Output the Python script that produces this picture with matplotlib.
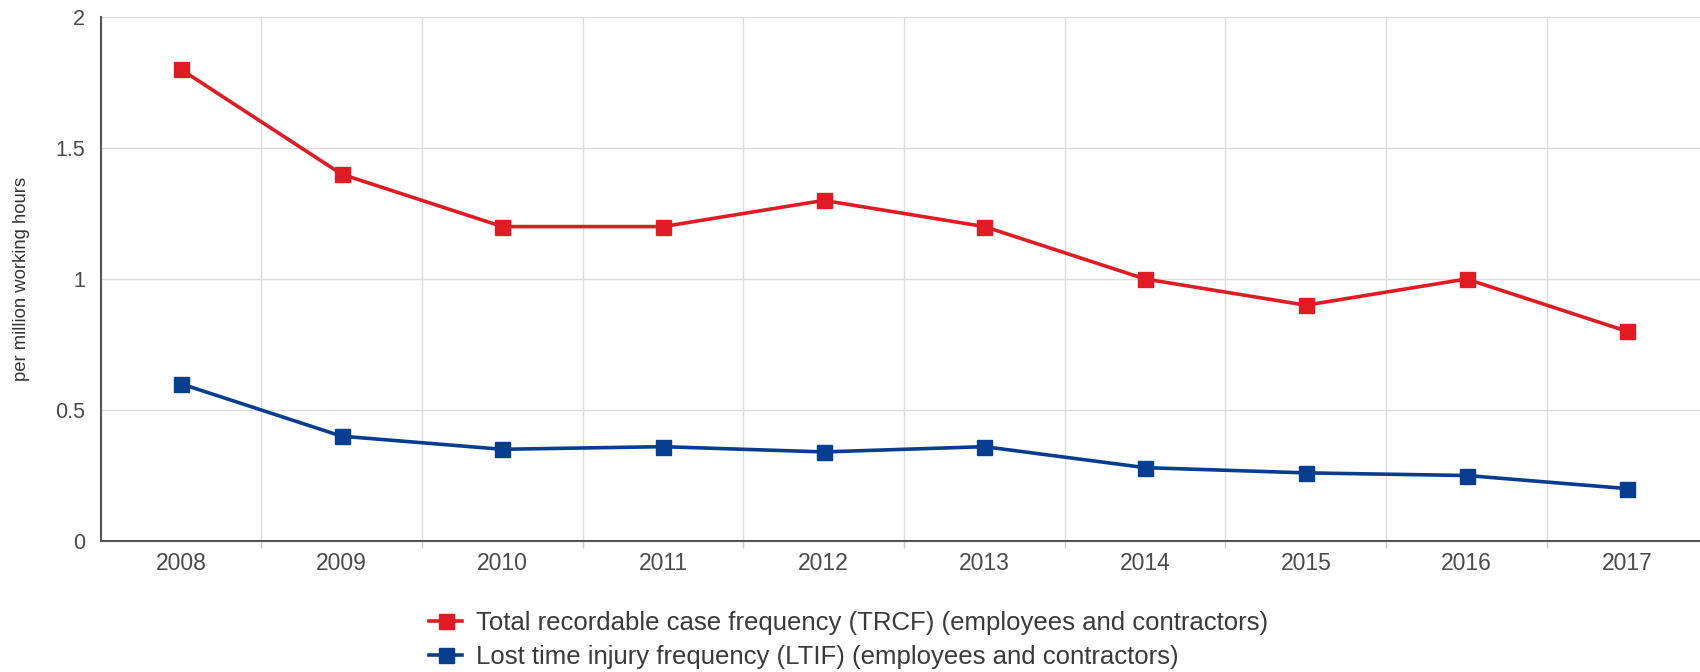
import matplotlib
matplotlib.use("Agg")
import matplotlib.pyplot as plt
from matplotlib.ticker import FixedLocator
from matplotlib.lines import Line2D

years = ["2008", "2009", "2010", "2011", "2012", "2013", "2014", "2015", "2016", "2017"]
trcf = [1.8, 1.4, 1.2, 1.2, 1.3, 1.2, 1.0, 0.9, 1.0, 0.8]
ltif = [0.6, 0.4, 0.35, 0.36, 0.34, 0.36, 0.28, 0.26, 0.25, 0.2]
series_labels = [
    "Total recordable case frequency (TRCF) (employees and contractors)",
    "Lost time injury frequency (LTIF) (employees and contractors)",
]
y_ticks = [0, 0.5, 1, 1.5, 2]
y_tick_labels = ["0", "0.5", "1", "1.5", "2"]

RED = "#e01b24"
BLUE = "#073d8e"

plt.rcParams["font.family"] = ["Liberation Sans", "DejaVu Sans"]

fig = plt.figure(figsize=(17, 6.72), dpi=100)
ax = fig.add_axes([100.6 / 1700, 1 - 541 / 672, 1 - 100.6 / 1700, (541 - 17) / 672])

x = list(range(len(years)))
ax.plot(x, trcf, color=RED, lw=2.6, marker="s", ms=10.8, zorder=3)
ax.plot(x, ltif, color=BLUE, lw=2.6, marker="s", ms=10.8, zorder=3)

ax.set_xlim(-0.5, len(years) - 0.547)
ax.set_ylim(0, 2)
ax.set_xticks(x)
ax.set_xticklabels(years)
ax.xaxis.set_minor_locator(FixedLocator([i + 0.5 for i in range(len(years) - 1)]))
ax.set_yticks(y_ticks)
ax.set_yticklabels(y_tick_labels)

ax.grid(axis="y", which="major", color="#dddddd", lw=1)
ax.grid(axis="x", which="minor", color="#dddddd", lw=1)
ax.grid(axis="x", which="major", visible=False)

ax.tick_params(axis="x", which="major", length=0, pad=8, labelsize=16.5, labelcolor="#4a4a4a")
ax.tick_params(axis="x", which="minor", length=5, color="#cccccc", width=1)
ax.tick_params(axis="y", which="major", length=0, pad=11, labelsize=15.5, labelcolor="#4a4a4a")

for s in ["top", "right"]:
    ax.spines[s].set_visible(False)
for s in ["left", "bottom"]:
    ax.spines[s].set_color("#555555")
    ax.spines[s].set_linewidth(1.5)

ax.set_ylabel("per million working hours", fontsize=13.3, color="#333333", va="center")
ax.yaxis.set_label_coords((22 - 100.6) / (1700 - 100.6), 0.5)

handles = [
    Line2D([0], [0], color=RED, lw=2.6, marker="s", ms=10.8),
    Line2D([0], [0], color=BLUE, lw=2.6, marker="s", ms=10.8),
]
fig.legend(handles, series_labels, loc="center left", bbox_to_anchor=(0.239, 1 - 640 / 672),
           frameon=False, fontsize=18.5, handlelength=1.27, handletextpad=0.55,
           labelspacing=0.42, labelcolor="#3a3a3a")

fig.savefig("out.png", dpi=100, facecolor="white")
